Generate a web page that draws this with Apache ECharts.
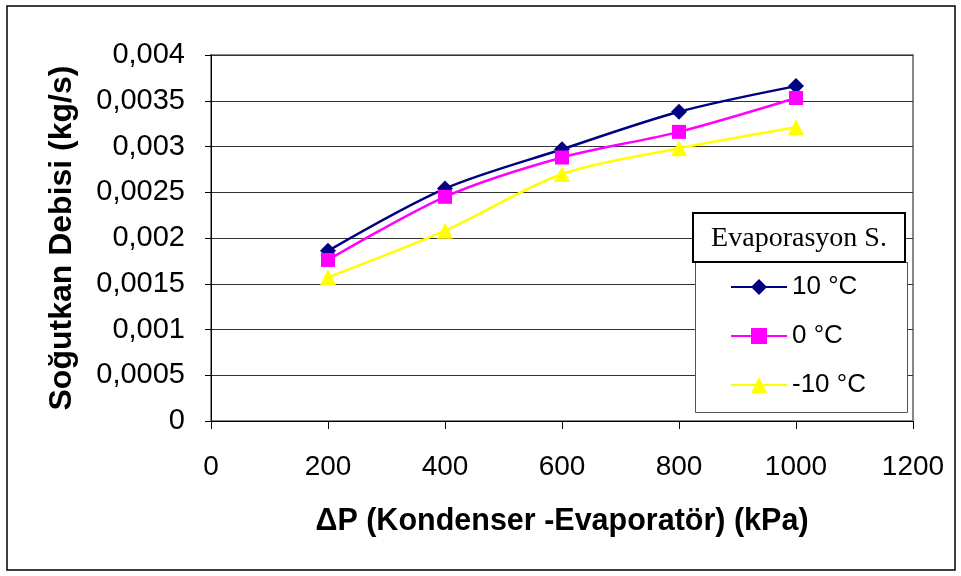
<!DOCTYPE html>
<html>
<head>
<meta charset="utf-8">
<script src="https://cdn.jsdelivr.net/npm/echarts@6/dist/echarts.min.js"></script>
<style>html,body{margin:0;padding:0;background:#fff}#c{width:961px;height:576px}</style>
</head>
<body>
<div id="c"></div>
<script>
var xValues = [200, 400, 600, 800, 1000];
var s10 = [0.00186, 0.00254, 0.00297, 0.00338, 0.00366];
var s0 = [0.00176, 0.00245, 0.00288, 0.00316, 0.00353];
var sm10 = [0.00157, 0.00208, 0.00270, 0.00298, 0.00321];
var seriesNames = ['10 °C', '0 °C', '-10 °C'];
var legendTitle = 'Evaporasyon S.';
var xName = 'ΔP (Kondenser -Evaporatör) (kPa)';
var yName = 'Soğutkan Debisi (kg/s)';

function pairs(v){ return xValues.map(function(x,i){ return [x, v[i]]; }); }

var chart = echarts.init(document.getElementById('c'), null, {renderer:'canvas'});
var font = 'Liberation Sans, Arial, sans-serif';
chart.setOption({
  animation: false,
  backgroundColor: '#fff',
  grid: {left: 211, right: 48, top: 55, bottom: 155, show: true, borderColor: '#888', borderWidth: 2, backgroundColor: 'transparent'},
  xAxis: {
    type: 'value', min: 0, max: 1200, interval: 200,
    name: xName, nameLocation: 'middle', nameGap: 85,
    nameTextStyle: {fontFamily: font, fontSize: 30.5, fontWeight: 'bold', color: '#000'},
    axisLine: {show: true, onZero: false, lineStyle: {color: '#000', width: 1}},
    axisTick: {show: true, inside: false, length: 8, lineStyle: {color: '#000'}},
    axisLabel: {fontFamily: font, fontSize: 28, color: '#000', margin: 32,
      formatter: function(v){ return String(v); }},
    splitLine: {show: false}
  },
  yAxis: {
    type: 'value', min: 0, max: 0.004, interval: 0.0005,
    name: yName, nameLocation: 'middle', nameGap: 133,
    nameTextStyle: {fontFamily: font, fontSize: 32, fontWeight: 'bold', color: '#000'},
    axisLine: {show: true, lineStyle: {color: '#000', width: 1}},
    axisTick: {show: true, inside: false, length: 6, lineStyle: {color: '#000'}},
    axisLabel: {fontFamily: font, fontSize: 29, color: '#000', margin: 26,
      formatter: function(v){ return (+v.toFixed(4)).toString().replace('.', ','); }},
    splitLine: {show: true, lineStyle: {color: '#333', width: 1}}
  },
  legend: {
    orient: 'vertical', left: 725, top: 269, z: 30,
    itemWidth: 56, itemHeight: 20, itemGap: 23,
    textStyle: {fontFamily: font, fontSize: 26, color: '#000'},
    data: seriesNames
  },
  graphic: [
    {type: 'rect', shape: {x: 7, y: 6, width: 948, height: 564}, style: {fill: 'none', stroke: '#000', lineWidth: 1.5}, z: -10},
    {type: 'rect', shape: {x: 695.5, y: 262.5, width: 212, height: 150}, style: {fill: '#fff', stroke: '#555', lineWidth: 1}, z: 10},
    {type: 'rect', shape: {x: 693, y: 213, width: 212, height: 49}, style: {fill: '#fff', stroke: '#000', lineWidth: 2}, z: 11},
    {type: 'text', x: 799, y: 239, style: {text: legendTitle, font: '28px "Liberation Serif", "Times New Roman", serif', fill: '#000', textAlign: 'center', textVerticalAlign: 'middle'}, z: 12}
  ],
  series: [
    {name: seriesNames[0], type: 'line', data: pairs(s10), smooth: 0.3, symbol: 'diamond', symbolSize: 16,
      itemStyle: {color: '#000080'}, lineStyle: {color: '#000080', width: 2.5}, z: 5},
    {name: seriesNames[1], type: 'line', data: pairs(s0), smooth: 0.3, symbol: 'rect', symbolSize: 14,
      itemStyle: {color: '#FF00FF'}, lineStyle: {color: '#FF00FF', width: 2.5}, z: 6},
    {name: seriesNames[2], type: 'line', data: pairs(sm10), smooth: 0.3, symbol: 'triangle', symbolSize: 16,
      itemStyle: {color: '#FFFF00'}, lineStyle: {color: '#FFFF00', width: 2.5}, z: 7}
  ]
});
</script>
</body>
</html>
